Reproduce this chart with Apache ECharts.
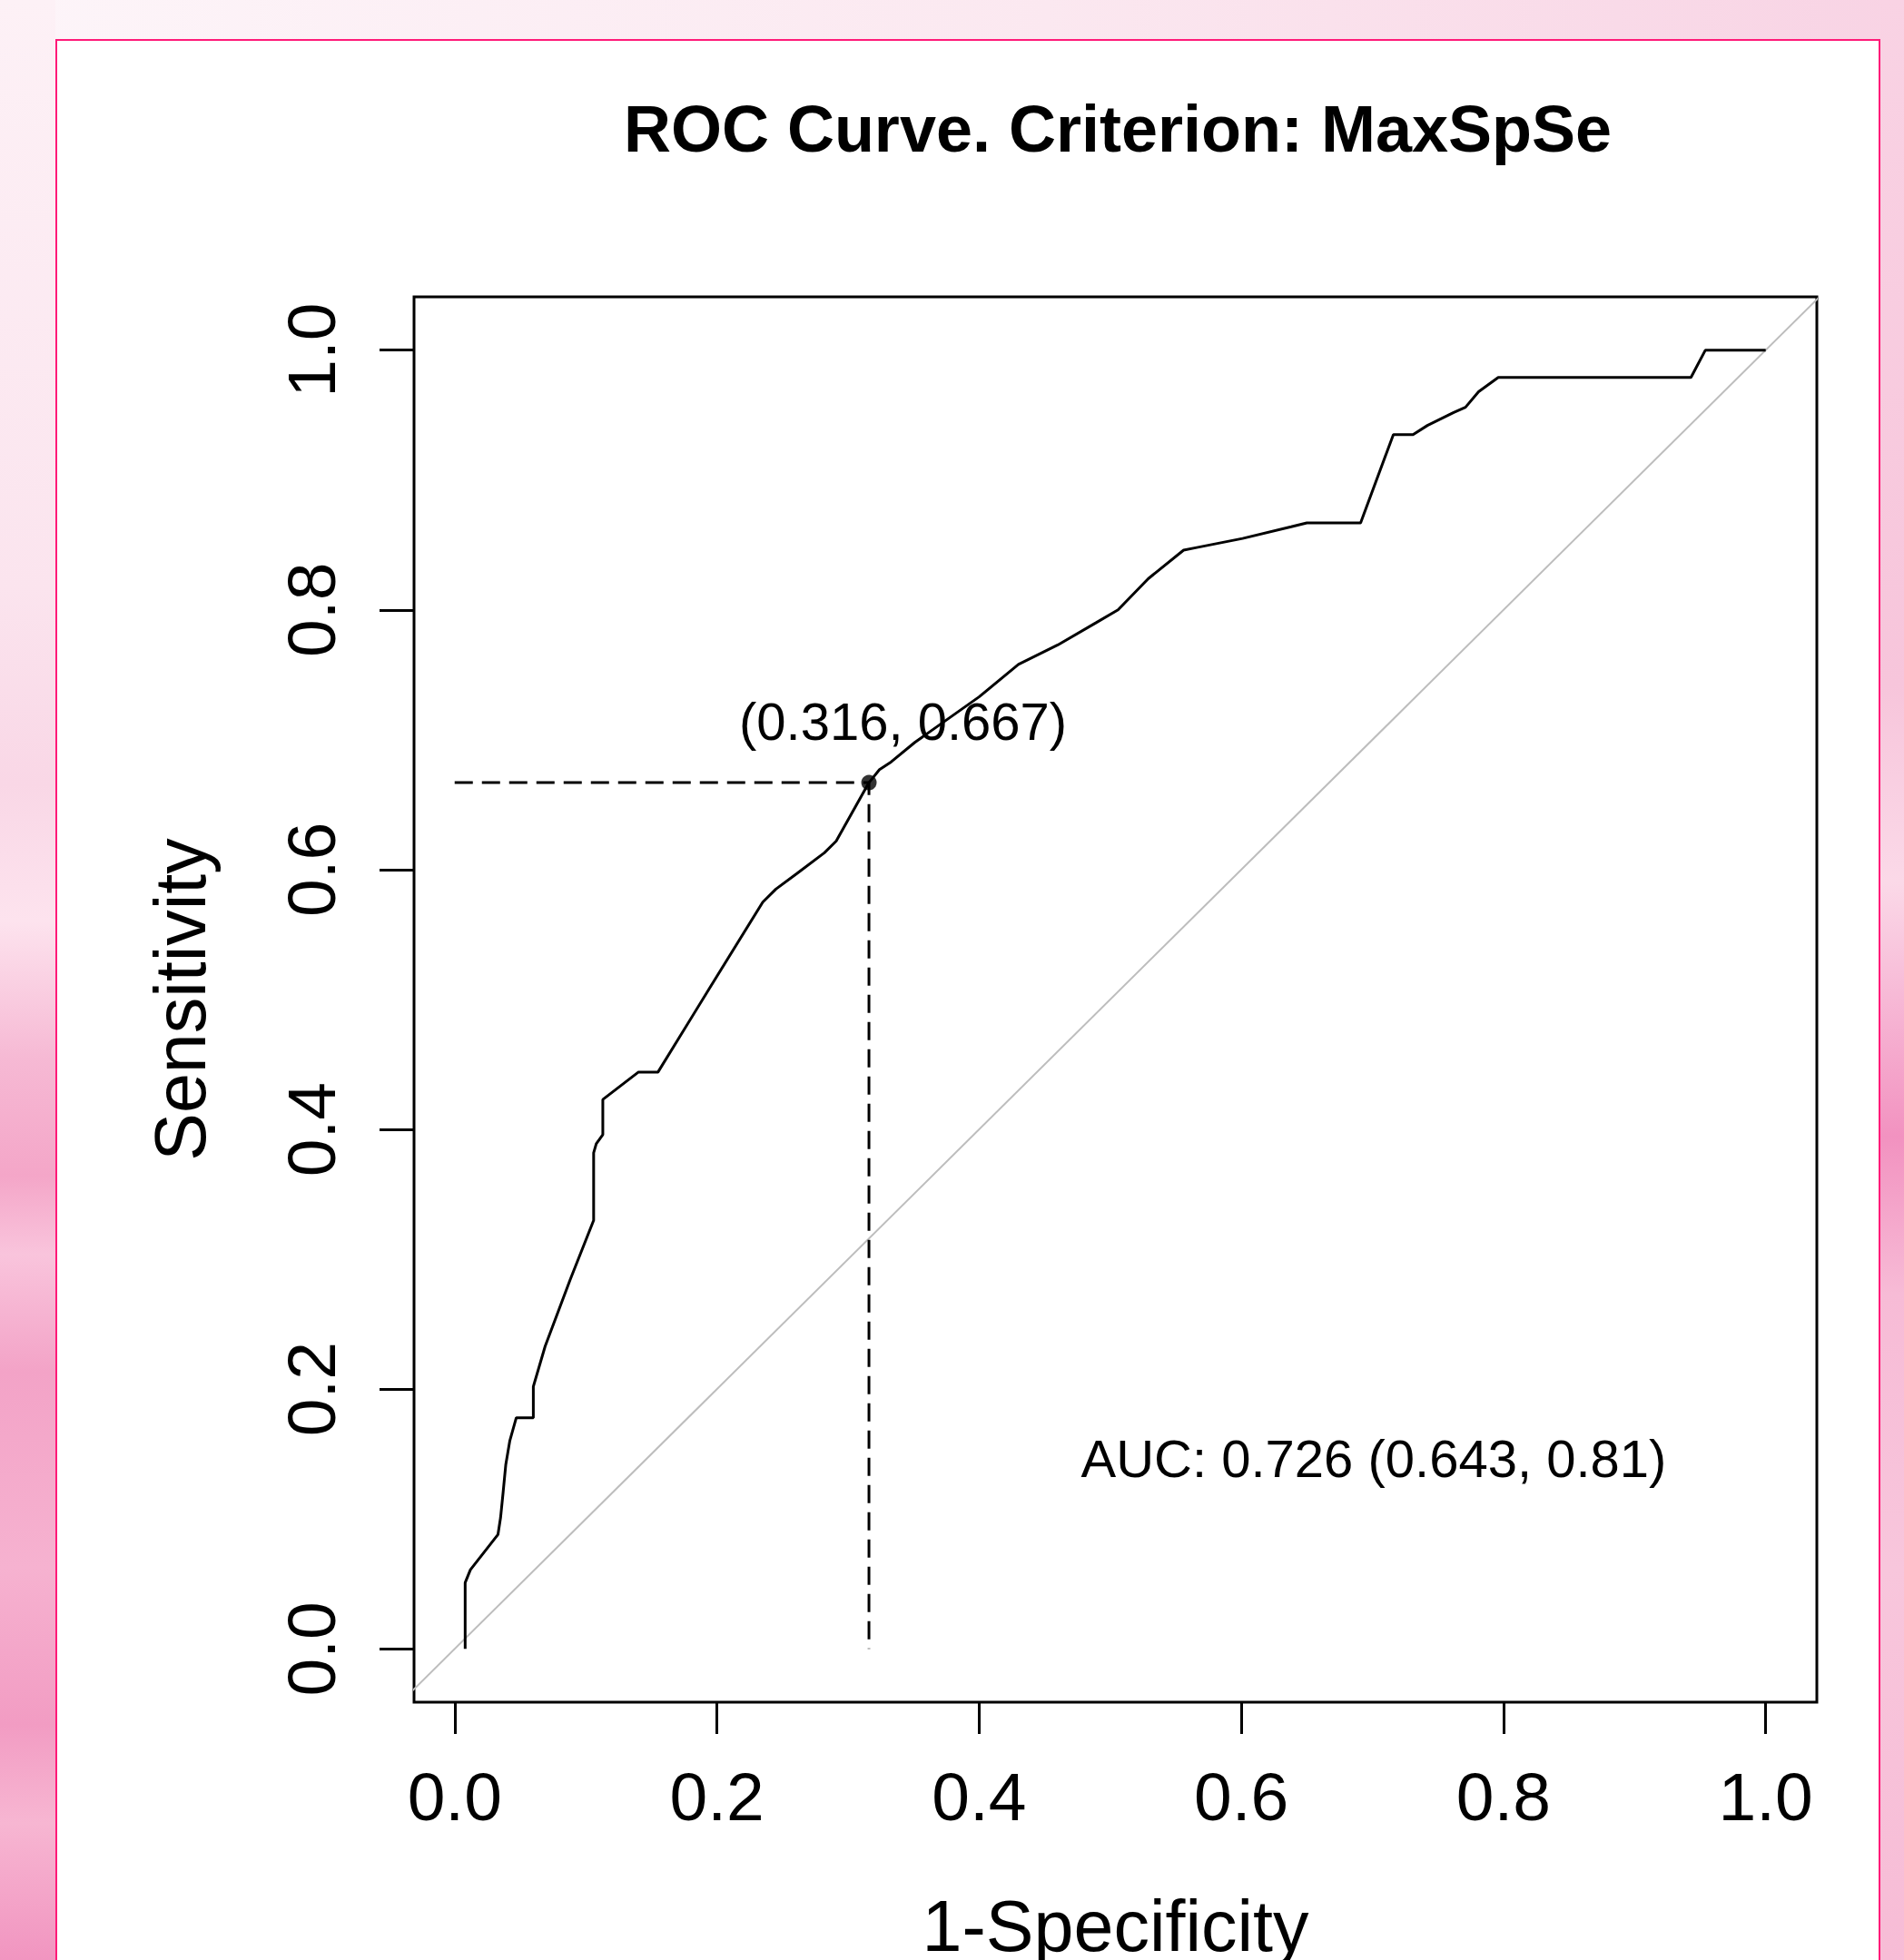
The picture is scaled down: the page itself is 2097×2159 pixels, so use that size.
<!DOCTYPE html>
<html>
<head>
<meta charset="utf-8">
<title>ROC Curve. Criterion: MaxSpSe</title>
<script src="https://cdn.jsdelivr.net/npm/echarts@6/dist/echarts.min.js"></script>
<style>
  html, body { margin: 0; padding: 0; }
  body {
    width: 2097px; height: 2159px; overflow: hidden; position: relative;
    background: linear-gradient(90deg, #fdf5f9 0%, #fbe8f0 55%, #f8d3e4 100%);
  }
  .strip-left {
    position: absolute; left: 0; top: 0; width: 61px; height: 2159px;
    background: linear-gradient(180deg, #fdf1f6 0%, #fbe4ee 30%, #f9d7e6 40%, #fde3ee 47%, #f6b9d4 54%,
      #f4a6c8 60%, #f9c4dc 64%, #f3a3c7 70%, #f6b2d0 80%, #f29cc3 88%, #f7b6d2 93%, #f195c0 100%);
  }
  .strip-right {
    position: absolute; left: 2071px; top: 0; width: 26px; height: 2159px;
    background: linear-gradient(180deg, #f9d3e4 0%, #f7c5db 35%, #fbd9e8 45%, #f292c0 58%, #f7bbd6 66%,
      #f8c6dc 80%, #f7bcd6 100%);
  }
  .frame {
    position: absolute; left: 61px; top: 43px; width: 2010px; height: 2200px;
    box-sizing: border-box; background: #ffffff;
    border: 2px solid #ff1a78; border-bottom: none;
  }
  #main { position: absolute; left: 0; top: 0; width: 2097px; height: 2159px; }
</style>
</head>
<body>
<div class="strip-left"></div>
<div class="strip-right"></div>
<div class="frame"></div>
<div id="main"></div>
<script>
// ROC curve: x = 1-Specificity, y = Sensitivity
var fpr = [0.008, 0.008, 0.012, 0.033, 0.035, 0.037, 0.039, 0.042, 0.047, 0.060,
  0.060, 0.069, 0.088, 0.106, 0.106, 0.108, 0.113, 0.113, 0.140, 0.155,
  0.194, 0.235, 0.245, 0.261, 0.282, 0.291, 0.316, 0.324, 0.333, 0.351,
  0.400, 0.430, 0.460, 0.489, 0.506, 0.529, 0.556, 0.566, 0.601, 0.638,
  0.650, 0.691, 0.716, 0.731, 0.742, 0.762, 0.771, 0.781, 0.796, 0.943,
  0.954, 1.000];
var tpr = [0.000, 0.051, 0.061, 0.088, 0.101, 0.121, 0.142, 0.160, 0.178, 0.178,
  0.202, 0.233, 0.284, 0.330, 0.382, 0.389, 0.396, 0.423, 0.444, 0.444,
  0.508, 0.575, 0.585, 0.597, 0.613, 0.622, 0.667, 0.677, 0.683, 0.698,
  0.733, 0.758, 0.773, 0.790, 0.800, 0.824, 0.846, 0.848, 0.855, 0.864,
  0.867, 0.867, 0.935, 0.935, 0.942, 0.952, 0.956, 0.968, 0.979, 0.979,
  1.000, 1.000];

var tickValues = [0, 0.2, 0.4, 0.6, 0.8, 1.0];
var bestPoint = [0.316, 0.667];
var bestLabel = '(0.316, 0.667)';
var bestLabelAt = [0.342, 0.714];
var aucLabel = 'AUC: 0.726 (0.643, 0.81)';
var aucLabelAt = [0.701, 0.147];
var chanceLine = [[-0.1, -0.1], [1.1, 1.1]];

var rocData = fpr.map(function (x, i) { return [x, tpr[i]]; });
var guideData = [[0, bestPoint[1]], bestPoint, [bestPoint[0], 0]];

var FONT = "'Liberation Sans', Arial, sans-serif";
var chart = echarts.init(document.getElementById('main'), null, { renderer: 'svg' });

var option = {
  animation: false,
  textStyle: { fontFamily: FONT, color: '#000' },
  title: {
    text: 'ROC Curve. Criterion: MaxSpSe',
    left: 1226,
    top: 101,
    textAlign: 'center',
    textStyle: { fontFamily: FONT, fontSize: 72, fontWeight: 'bold', color: '#000' }
  },
  grid: {
    left: 456, top: 327, width: 1545, height: 1548,
    show: true, borderColor: '#000', borderWidth: 3,
    backgroundColor: 'transparent',
    containLabel: false, outerBoundsMode: 'none'
  },
  xAxis: {
    type: 'value', min: -0.031, max: 1.039,
    name: '1-Specificity', nameLocation: 'middle', nameGap: 207,
    nameTextStyle: { fontFamily: FONT, fontSize: 79, color: '#000' },
    axisLine: { show: false, onZero: false },
    axisTick: { show: true, customValues: tickValues, length: 35, lineStyle: { color: '#000', width: 3 } },
    axisLabel: {
      customValues: tickValues, margin: 66, fontSize: 75, color: '#000', fontFamily: FONT,
      formatter: function (v) { return v.toFixed(1); }
    },
    splitLine: { show: false }
  },
  yAxis: {
    type: 'value', min: -0.041, max: 1.041,
    name: 'Sensitivity', nameLocation: 'middle', nameGap: 218,
    nameTextStyle: { fontFamily: FONT, fontSize: 79, color: '#000' },
    axisLine: { show: false, onZero: false },
    axisTick: { show: true, customValues: tickValues, length: 38, lineStyle: { color: '#000', width: 3 } },
    axisLabel: {
      customValues: tickValues, margin: 76, rotate: 90, fontSize: 75, color: '#000', fontFamily: FONT,
      formatter: function (v) { return v.toFixed(1); }
    },
    splitLine: { show: false }
  },
  series: [
    {
      name: 'chance', type: 'line', data: chanceLine, symbol: 'none', clip: true,
      lineStyle: { color: '#bdbdbd', width: 2 }, silent: true
    },
    {
      name: 'ROC', type: 'line', data: rocData, symbol: 'none', clip: true,
      lineStyle: { color: '#000', width: 3 }
    },
    {
      name: 'guide', type: 'line', data: guideData, symbol: 'none',
      lineStyle: { color: '#000', width: 3, type: [20, 10] }
    },
    {
      name: 'best', type: 'scatter', data: [bestPoint], symbol: 'circle', symbolSize: 17,
      itemStyle: { color: '#000' }
    },
    {
      name: 'labels', type: 'scatter', symbolSize: 0, silent: true,
      itemStyle: { color: 'transparent' },
      data: [
        { value: bestLabelAt, text: bestLabel },
        { value: aucLabelAt, text: aucLabel }
      ],
      label: {
        show: true, position: 'inside', fontFamily: FONT, fontSize: 58, color: '#000',
        opacity: 1, textBorderWidth: 0,
        formatter: function (p) { return p.data.text; }
      }
    }
  ]
};

chart.setOption(option);
</script>
</body>
</html>
